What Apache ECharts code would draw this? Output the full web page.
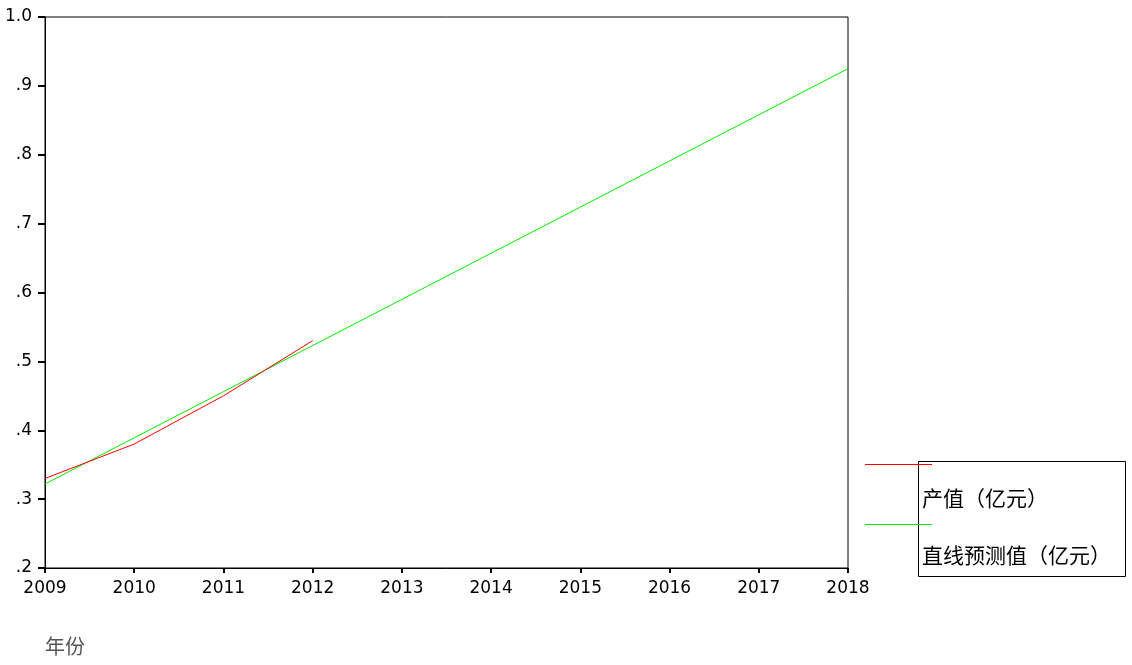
<!DOCTYPE html>
<html>
<head>
<meta charset="utf-8">
<script src="https://cdn.jsdelivr.net/npm/echarts@6/dist/echarts.min.js"></script>
<style>
  html, body { margin: 0; padding: 0; background: #fff; }
  #chart { width: 1132px; height: 665px; }
</style>
</head>
<body>
<div id="chart"></div>
<script>
// data
var years = [2009, 2010, 2011, 2012, 2013, 2014, 2015, 2016, 2017, 2018];
var outputValue = [0.33, 0.38, 0.45, 0.53];            // 产值（亿元）, 2009-2012
var trendValue = [0.322, 0.389, 0.456, 0.523, 0.590, 0.657, 0.724, 0.791, 0.858, 0.925]; // 直线预测值
var yTicks = [0.2, 0.3, 0.4, 0.5, 0.6, 0.7, 0.8, 0.9, 1.0];
var seriesNames = ['产值（亿元）', '直线预测值（亿元）'];
var xTitle = '年份';

var myChart = echarts.init(document.getElementById('chart'));

function pairs(xs, ys) {
    return ys.map(function (v, i) { return [xs[i], v]; });
}

function yLabel(v) {
    var s = v.toFixed(1);
    return v < 1 ? s.replace(/^0/, '') : s;
}

var tickFont = { fontFamily: 'DejaVu Sans', fontSize: 17, color: '#000' };
var legendFont = { fontFamily: 'Noto Sans CJK SC', fontSize: 21, fill: '#000' };

var option = {
    backgroundColor: '#fff',
    animation: false,
    grid: {
        left: 45, top: 17, right: 284, bottom: 97,
        show: true, borderColor: '#000', borderWidth: 1
    },
    xAxis: {
        type: 'value',
        min: years[0], max: years[years.length - 1], interval: 1,
        axisLine: { lineStyle: { color: '#000', width: 1 } },
        axisTick: { show: true, length: 5, lineStyle: { color: '#000', width: 2 } },
        axisLabel: Object.assign({ margin: 12, formatter: function (v) { return String(v); } }, tickFont),
        splitLine: { show: false }
    },
    yAxis: {
        type: 'value',
        min: yTicks[0], max: yTicks[yTicks.length - 1], interval: 0.1,
        axisLine: { show: true, lineStyle: { color: '#000', width: 1 } },
        axisTick: { show: true, length: 7, lineStyle: { color: '#000', width: 2 } },
        axisLabel: Object.assign({ margin: 13, formatter: yLabel }, tickFont),
        splitLine: { show: false }
    },
    series: [
        {
            name: seriesNames[0], type: 'line', data: pairs(years, outputValue),
            showSymbol: false, lineStyle: { color: '#ff0000', width: 1 }, z: 3
        },
        {
            name: seriesNames[1], type: 'line', data: pairs(years, trendValue),
            showSymbol: false, lineStyle: { color: '#00ee00', width: 1 }, z: 2
        }
    ],
    graphic: [
        { type: 'rect', shape: { x: 918.5, y: 461.5, width: 207, height: 115 },
          style: { fill: '#fff', stroke: '#000', lineWidth: 1 } },
        { type: 'line', shape: { x1: 865, y1: 464.5, x2: 932, y2: 464.5 },
          style: { stroke: '#ff0000', lineWidth: 1 }, z: 10 },
        { type: 'line', shape: { x1: 865, y1: 524.5, x2: 932, y2: 524.5 },
          style: { stroke: '#00ee00', lineWidth: 1 }, z: 10 },
        { type: 'text', left: 922, top: 488,
          style: Object.assign({ text: seriesNames[0] }, legendFont), z: 10 },
        { type: 'text', left: 922, top: 545,
          style: Object.assign({ text: seriesNames[1] }, legendFont), z: 10 },
        { type: 'text', left: 45, top: 636,
          style: { text: xTitle, fontFamily: 'Noto Sans CJK SC', fontSize: 20, fill: '#555' } }
    ]
};

myChart.setOption(option);
</script>
</body>
</html>
